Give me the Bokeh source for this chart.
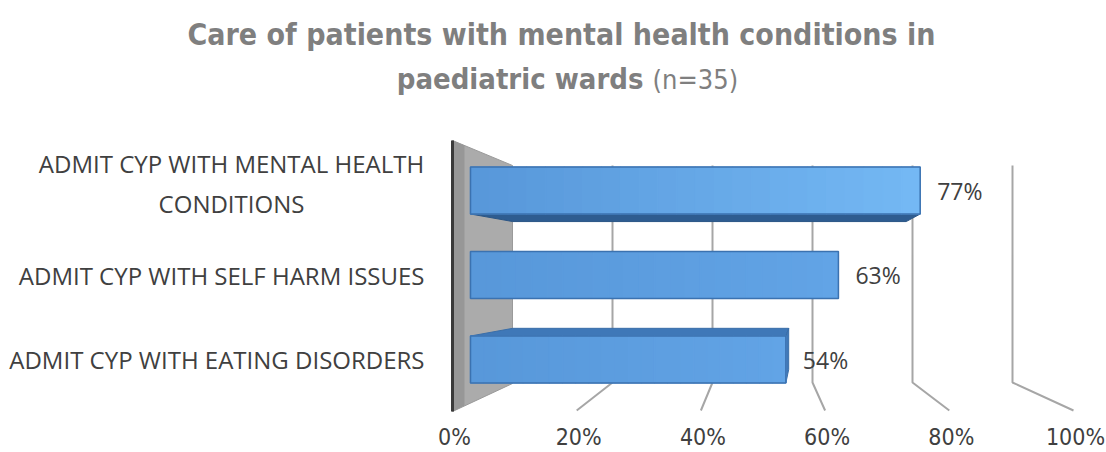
import numpy as np
from bokeh.plotting import figure
from bokeh.models import Range1d
from bokeh.embed import file_html
from bokeh.resources import INLINE
from bokeh.core.properties import value

# ---------------- data ----------------
categories = ["ADMIT CYP WITH MENTAL HEALTH\nCONDITIONS",
              "ADMIT CYP WITH SELF HARM ISSUES",
              "ADMIT CYP WITH EATING DISORDERS"]
values = [77, 63, 54]
value_labels = ["77%", "63%", "54%"]
ticks = [0, 20, 40, 60, 80, 100]
tick_labels = ["0%", "20%", "40%", "60%", "80%", "100%"]
title_line1 = "Care of patients with mental health conditions in"
title_line2 = "paediatric wards"
title_n = "(n=35)"

# ---------------- layout constants ----------------
W, H = 1106, 452
PX = 5.84            # px per percent on the bar front plane
X0 = 470             # x of 0% on the bar front plane
BAR_Y0 = 190         # centre of first bar
BAR_STEP = 84.5
BAR_H = 47
VPX, VPY, K = 808, 274, 0.875   # perspective for bar depth
BACK_X0, BACK_S = 512, 5.0      # back wall gridlines
FRONT_X0, FRONT_S = 452, 6.21   # floor front edge
WALL_TOP_F, WALL_TOP_B = 140, 165
WALL_BOT_B, FLOOR_Y = 382, 410

FONT = "Open Sans"
NARROW = "DejaVu Sans Condensed"
TXT = "#404040"
TITLE_C = "#7F7F7F"


def dx(X):
    """pixel x -> data x (percent)"""
    return (X - X0) / PX


def back(X, Y):
    return VPX + K * (X - VPX), VPY + K * (Y - VPY)


p = figure(width=W, height=H, output_backend="svg", toolbar_location=None,
           x_range=Range1d(dx(0), dx(W)), y_range=Range1d(H, 0), min_border=0)
p.axis.visible = False
p.grid.visible = False
p.outline_line_color = None
p.background_fill_color = "white"

# ---------------- side wall ----------------
p.patch([dx(FRONT_X0), dx(BACK_X0), dx(BACK_X0), dx(FRONT_X0)],
        [WALL_TOP_F, WALL_TOP_B, WALL_BOT_B + 1, FLOOR_Y + 1],
        fill_color="#ABABAB", line_color="#9A9A9A", line_width=1)
p.patch([dx(FRONT_X0), dx(FRONT_X0 + 12), dx(FRONT_X0 + 12), dx(FRONT_X0)],
        [WALL_TOP_F, WALL_TOP_F + 5, FLOOR_Y - 5, FLOOR_Y + 1],
        fill_color="#979797", line_color=None)
p.line([dx(FRONT_X0), dx(FRONT_X0)], [WALL_TOP_F, FLOOR_Y + 1],
       line_color="#3A3A3A", line_width=3)

# ---------------- gridlines (back wall + floor) ----------------
gx, gy = [], []
for t in ticks[1:]:
    bx = BACK_X0 + BACK_S * t
    fx = FRONT_X0 + FRONT_S * t
    gx.append([dx(bx), dx(bx), dx(fx)])
    gy.append([WALL_TOP_B, WALL_BOT_B, FLOOR_Y])
p.multi_line(gx, gy, line_color="#A6A6A6", line_width=2)

# ---------------- bars ----------------
for i, v in enumerate(values):
    yc = BAR_Y0 + i * BAR_STEP
    yt, yb = yc - BAR_H / 2, yc + BAR_H / 2
    xl, xr = X0, X0 + PX * v
    if yb < VPY:   # bottom face visible
        b1, b2 = back(xr, yb), back(xl, yb)
        p.patch([dx(xl), dx(xr), dx(b1[0]), dx(b2[0])], [yb, yb, b1[1], b2[1]],
                fill_color="#2E5C90", line_color="#2A5585", line_width=1)
    if yt > VPY:   # top face visible
        b1, b2 = back(xr, yt), back(xl, yt)
        p.patch([dx(xl), dx(xr), dx(b1[0]), dx(b2[0])], [yt, yt, b1[1], b2[1]],
                fill_color="#3F78B8", line_color="#3A6EA8", line_width=1)
    if xr < VPX:   # end cap visible
        b1, b2 = back(xr, yb), back(xr, yt)
        p.patch([dx(xr), dx(xr), dx(b1[0]), dx(b2[0])], [yt, yb, b1[1], b2[1]],
                fill_color="#3F78B8", line_color="#3A6EA8", line_width=1)
    # front face with horizontal gradient
    c0 = np.array([0x58, 0x98, 0xDA])
    c1 = np.array([0x74, 0xB8, 0xF4]) if i == 0 else np.array([0x62, 0xA4, 0xE6])
    n = 24
    edges = np.linspace(0, v, n + 1)
    cols = []
    for k in range(n):
        f = k / (n - 1)
        c = (c0 * (1 - f) + c1 * f).astype(int)
        cols.append("#%02x%02x%02x" % tuple(c))
    p.quad(left=edges[:-1], right=edges[1:], top=[yt] * n, bottom=[yb] * n,
           fill_color=cols, line_color=cols, line_width=1.2)
    p.quad(left=[0], right=[v], top=[yt], bottom=[yb], fill_color=None,
           line_color="#3B72B0", line_width=1.5)

# ---------------- value labels ----------------
p.text(x=[v + 17 / PX for v in values],
       y=[BAR_Y0 + i * BAR_STEP for i in range(len(values))],
       text=value_labels, text_font=value(FONT), text_font_size="23px",
       text_color=TXT, text_align="left", text_baseline="middle")

# ---------------- category labels ----------------
for i, c in enumerate(categories):
    yc = BAR_Y0 + i * BAR_STEP
    if "\n" in c:
        p.text(x=[dx(231)], y=[yc - 7], text=[c], text_font=value(FONT),
               text_font_size="24px", text_color=TXT, text_align="center",
               text_baseline="middle", text_line_height=1.2)
    else:
        p.text(x=[dx(424)], y=[yc], text=[c], text_font=value(FONT),
               text_font_size="24px", text_color=TXT, text_align="right",
               text_baseline="middle")

# ---------------- tick labels ----------------
p.text(x=[dx(FRONT_X0 + 2 + FRONT_S * t) for t in ticks], y=[436] * len(ticks),
       text=tick_labels, text_font=value(NARROW), text_font_size="23px",
       text_color=TXT, text_align="center", text_baseline="middle")

# ---------------- title ----------------
p.text(x=[dx(561)], y=[34], text=[title_line1], text_font=value(NARROW),
       text_font_size="30px", text_font_style="bold", text_color=TITLE_C,
       text_align="center", text_baseline="middle")
p.text(x=[dx(643)], y=[78], text=[title_line2], text_font=value(NARROW),
       text_font_size="29px", text_font_style="bold", text_color=TITLE_C,
       text_align="right", text_baseline="middle")
p.text(x=[dx(652)], y=[79], text=[title_n], text_font=value(NARROW),
       text_font_size="27px", text_color=TITLE_C, text_align="left",
       text_baseline="middle")

open("out.html", "w").write(file_html(p, INLINE))
